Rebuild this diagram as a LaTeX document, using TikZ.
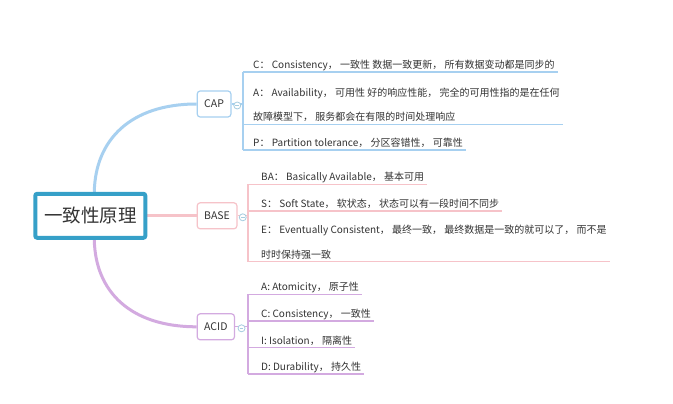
\documentclass[tikz,border=0pt]{standalone}
\usepackage{fontspec}
\setmainfont{Noto Sans CJK SC}
\usetikzlibrary{backgrounds,calc}

\definecolor{rootblue}{HTML}{36A0C8}
\definecolor{capblue}{HTML}{A7D0F0}
\definecolor{basepink}{HTML}{F6C3C9}
\definecolor{acidviolet}{HTML}{D3AAE0}
\definecolor{txt}{HTML}{333333}
\definecolor{foldgray}{HTML}{A6CDE0}

% uniform line height and depth for leaf text
\newcommand\lnstrut{\rule[-2.5pt]{0pt}{9.5pt}}

\begin{document}
\begin{tikzpicture}[x=1pt,y=-1pt,
  rootbox/.style={draw=rootblue, line width=4pt, rounded corners=2pt, fill=white,
    minimum width=110pt, minimum height=44pt, inner sep=0pt,
    font=\fontsize{18.5}{20}\selectfont, text=txt},
  topicbox/.style={draw=#1, line width=1.2pt, rounded corners=3pt, fill=white,
    minimum height=26pt, inner xsep=7pt, inner ysep=0pt, anchor=west,
    font=\fontsize{10.5}{12}\selectfont, text=txt},
  leaf/.style={anchor=south west, inner xsep=3pt, inner ysep=1pt, align=left,
    font=\fontsize{10}{24.5}\selectfont, text=txt},
  mainlink/.style={draw=#1, line width=3pt},
  sublink/.style={draw=#1, line width=1.2pt},
  fold/.style={circle, draw=foldgray, fill=white, line width=0.8pt,
    minimum size=7pt, inner sep=0pt},
]
\useasboundingbox (0,0) rectangle (673,404);

% central topic and its three branches
\node[rootbox] (root) at (90.3,215.8) {一致性原理};
\node[topicbox=capblue]    (cap)  at (196.6,104)   {CAP};
\node[topicbox=basepink]   (base) at (196.6,215.8) {BASE};
\node[topicbox=acidviolet] (acid) at (196.6,326.8) {ACID};

% spines of the three branches
\coordinate (capspine)  at (243,104);
\coordinate (basespine) at (248,215.8);
\coordinate (acidspine) at (248,326.8);

% CAP leaves
\node[leaf] (capC) at (250,72) {\lnstrut C： Consistency， 一致性 数据一致更新， 所有数据变动都是同步的};
\node[leaf] (capA) at (250,124.3) {\lnstrut A： Availability， 可用性 好的响应性能， 完全的可用性指的是在任何\\\lnstrut 故障模型下， 服务都会在有限的时间处理响应};
\node[leaf] (capP) at (250,150) {\lnstrut P： Partition tolerance， 分区容错性， 可靠性};

% BASE leaves
\node[leaf] (baseBA) at (258,184.3) {\lnstrut BA： Basically Available， 基本可用};
\node[leaf] (baseS)  at (258,211) {\lnstrut S： Soft State， 软状态， 状态可以有一段时间不同步};
\node[leaf] (baseE)  at (258,261.7) {\lnstrut E： Eventually Consistent， 最终一致， 最终数据是一致的就可以了， 而不是\\\lnstrut 时时保持强一致};

% ACID leaves
\node[leaf] (acidA) at (258,294.3) {\lnstrut A: Atomicity， 原子性};
\node[leaf] (acidC) at (258,321)   {\lnstrut C: Consistency， 一致性};
\node[leaf] (acidI) at (258,347.7) {\lnstrut I: Isolation， 隔离性};
\node[leaf] (acidD) at (258,374)   {\lnstrut D: Durability， 持久性};

\begin{scope}[on background layer]
  \fill[white] (0,0) rectangle (673,404);
  % main branches from the central topic
  \draw[mainlink=capblue] ([xshift=4pt]root.north) .. controls +(1,-52) and +(-66,0) .. (cap.west);
  \draw[mainlink=basepink] (root.east) -- (base.west);
  \draw[mainlink=acidviolet] ([xshift=4pt]root.south) .. controls +(1,52) and +(-66,0) .. (acid.west);

  % CAP spine and underlines
  \draw[sublink=capblue] (cap.east) -- (cap.east -| capspine);
  \draw[sublink=capblue] (capC.south -| capspine) -- (capP.south -| capspine);
  \foreach \n in {capC,capA,capP}
    \draw[sublink=capblue] (\n.south -| capspine) -- (\n.south east);

  % BASE spine and underlines
  \draw[sublink=basepink] (base.east) -- (base.east -| basespine);
  \draw[sublink=basepink] (baseBA.south -| basespine) -- (baseE.south -| basespine);
  \foreach \n in {baseBA,baseS,baseE}
    \draw[sublink=basepink] (\n.south -| basespine) -- (\n.south east);

  % ACID spine and underlines
  \draw[sublink=acidviolet] (acid.east) -- (acid.east -| acidspine);
  \draw[sublink=acidviolet] (acidA.south -| acidspine) -- (acidD.south -| acidspine);
  \foreach \n in {acidA,acidC,acidI,acidD}
    \draw[sublink=acidviolet] (\n.south -| acidspine) -- (\n.south east);
\end{scope}

% collapse buttons between each branch topic and its spine
\foreach \t/\s in {cap/capspine,base/basespine,acid/acidspine} {
  \node[fold] (\t fold) at ([yshift=-1.5pt]$(\t.east)!0.5!(\t.east -| \s)$) {};
  \draw[foldgray, line width=0.7pt] ([xshift=-1.8pt]\t fold.center) -- ([xshift=1.8pt]\t fold.center);
}
\end{tikzpicture}
\end{document}
